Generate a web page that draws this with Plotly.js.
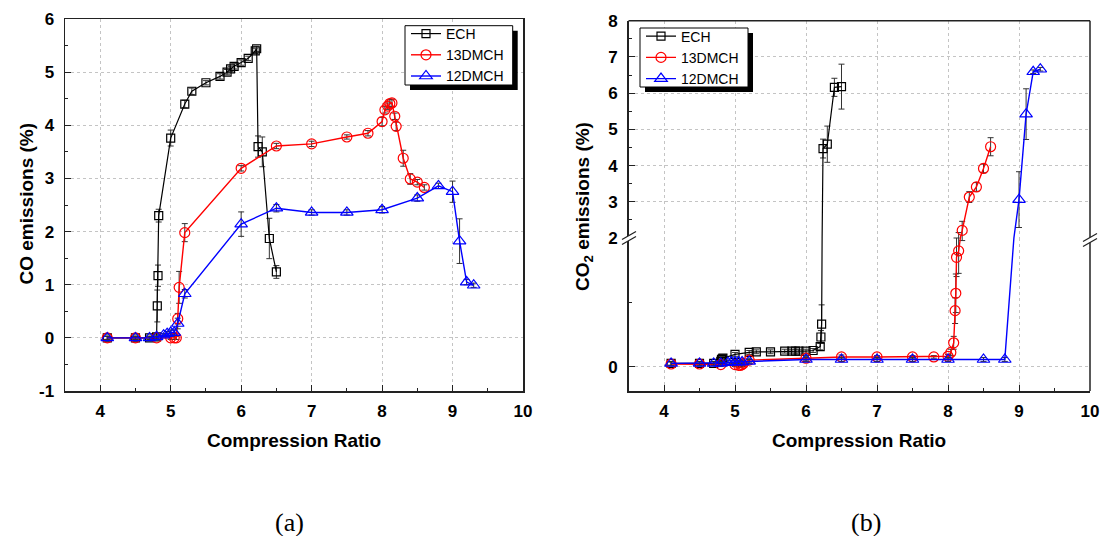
<!DOCTYPE html>
<html>
<head>
<meta charset="utf-8">
<script src="https://cdn.plot.ly/plotly-3.0.1.min.js"></script>
<style>
  html, body { margin: 0; padding: 0; background: #fff; }
  #chart { width: 1102px; height: 536px; }
</style>
</head>
<body>
<div id="chart"></div>
<script>
// ---------- DATA ----------
const seriesNames = ['ECH', '13DMCH', '12DMCH'];
const xTickVals = [4, 5, 6, 7, 8, 9, 10];
const xTickText = ['4', '5', '6', '7', '8', '9', '10'];
const coTickVals = [-1, 0, 1, 2, 3, 4, 5, 6];
const coTickText = ['-1', '0', '1', '2', '3', '4', '5', '6'];
const co2UpperTickVals = [2, 3, 4, 5, 6, 7, 8];
const co2UpperTickText = ['2', '3', '4', '5', '6', '7', '8'];
const co2LowerTickVals = [0];
const co2LowerTickText = ['0'];

// (a) CO emissions
const echCoX   = [4.1, 4.5, 4.7, 4.8, 4.81, 4.82, 4.83, 5.0, 5.2, 5.3, 5.5, 5.7, 5.8, 5.85, 5.9, 6.0, 6.1, 6.2, 6.22, 6.24, 6.3, 6.4, 6.5];
const echCoY   = [0, 0, 0, 0.02, 0.6, 1.17, 2.3, 3.76, 4.4, 4.64, 4.8, 4.92, 5.0, 5.06, 5.11, 5.18, 5.26, 5.4, 5.44, 3.6, 3.5, 1.87, 1.24];
const echCoErr = [0.03, 0.03, 0.03, 0.05, 0.3, 0.2, 0.12, 0.15, 0.07, 0.06, 0.04, 0.05, 0.05, 0.05, 0.05, 0.05, 0.04, 0.05, 0.05, 0.2, 0.28, 0.38, 0.12];

const m13CoX   = [4.1, 4.5, 4.8, 5.0, 5.05, 5.08, 5.1, 5.12, 5.2, 6.0, 6.5, 7.0, 7.5, 7.8, 8.0, 8.04, 8.08, 8.11, 8.14, 8.18, 8.2, 8.3, 8.4, 8.5, 8.6];
const m13CoY   = [0, 0, 0, 0, 0, 0, 0.36, 0.95, 1.98, 3.19, 3.61, 3.65, 3.78, 3.85, 4.07, 4.29, 4.36, 4.41, 4.42, 4.17, 3.98, 3.38, 2.99, 2.93, 2.83];
const m13CoErr = [0.03, 0.03, 0.03, 0.03, 0.03, 0.03, 0.1, 0.3, 0.17, 0.05, 0.05, 0.05, 0.04, 0.05, 0.08, 0.06, 0.06, 0.07, 0.07, 0.06, 0.08, 0.15, 0.1, 0.05, 0.05];

const m12CoX   = [4.1, 4.5, 4.7, 4.8, 4.9, 4.95, 5.0, 5.05, 5.1, 5.2, 6.0, 6.5, 7.0, 7.5, 8.0, 8.5, 8.8, 9.0, 9.1, 9.2, 9.3];
const m12CoY   = [0, 0, 0, 0.02, 0.05, 0.08, 0.1, 0.1, 0.27, 0.83, 2.14, 2.44, 2.36, 2.36, 2.41, 2.63, 2.86, 2.75, 1.82, 1.05, 0.99];
const m12CoErr = [0.03, 0.03, 0.03, 0.03, 0.03, 0.04, 0.05, 0.05, 0.1, 0.08, 0.23, 0.07, 0.05, 0.05, 0.06, 0.06, 0.05, 0.2, 0.42, 0.05, 0.04];

// (b) CO2 emissions
const echCo2X   = [4.1, 4.5, 4.7, 4.8, 4.81, 4.82, 4.83, 5.0, 5.2, 5.3, 5.5, 5.7, 5.8, 5.85, 5.9, 6.0, 6.1, 6.2, 6.21, 6.22, 6.24, 6.3, 6.4, 6.5];
const echCo2Y   = [0.05, 0.05, 0.05, 0.08, 0.11, 0.12, 0.13, 0.19, 0.22, 0.23, 0.23, 0.24, 0.24, 0.24, 0.24, 0.24, 0.25, 0.31, 0.46, 0.66, 4.47, 4.59, 6.16, 6.18];
const echCo2Err = [0.03, 0.03, 0.03, 0.03, 0.03, 0.03, 0.03, 0.03, 0.03, 0.03, 0.03, 0.03, 0.03, 0.03, 0.03, 0.03, 0.03, 0.05, 0.1, 0.3, 0.26, 0.5, 0.25, 0.62];

const m13Co2X   = [4.1, 4.5, 4.8, 5.0, 5.05, 5.08, 5.1, 5.12, 5.2, 6.0, 6.5, 7.0, 7.5, 7.8, 8.0, 8.04, 8.08, 8.1, 8.11, 8.12, 8.15, 8.2, 8.3, 8.4, 8.5, 8.6];
const m13Co2Y   = [0.04, 0.04, 0.03, 0.03, 0.02, 0.02, 0.03, 0.05, 0.1, 0.13, 0.15, 0.15, 0.15, 0.15, 0.16, 0.22, 0.37, 0.87, 1.14, 1.7, 1.8, 2.21, 3.13, 3.41, 3.92, 4.52];
const m13Co2Err = [0.03, 0.03, 0.03, 0.03, 0.03, 0.03, 0.03, 0.03, 0.03, 0.03, 0.03, 0.02, 0.02, 0.02, 0.03, 0.05, 0.1, 0.2, 0.3, 0.3, 0.35, 0.25, 0.15, 0.12, 0.12, 0.25];

const m12Co2X   = [4.1, 4.5, 4.7, 4.8, 4.9, 4.95, 5.0, 5.05, 5.1, 5.2, 6.0, 6.5, 7.0, 7.5, 8.0, 8.5, 8.8, 9.0, 9.1, 9.2, 9.3];
const m12Co2Y   = [0.05, 0.05, 0.05, 0.05, 0.06, 0.07, 0.07, 0.07, 0.07, 0.08, 0.11, 0.11, 0.11, 0.11, 0.11, 0.11, 0.11, 3.06, 5.42, 6.59, 6.66];
const m12Co2Err = [0.03, 0.03, 0.03, 0.03, 0.03, 0.03, 0.03, 0.03, 0.03, 0.03, 0.03, 0.03, 0.03, 0.03, 0.03, 0.03, 0.03, 0.77, 0.7, 0.05, 0.05];

// ---------- STYLE ----------
const W = 1102, H = 536;
const px = v => v / W;
const py = v => 1 - v / H;
const FONT = 'Liberation Sans, Arial, sans-serif';
const colors = ['#000000', '#ff0000', '#0000ff'];
const symbols = ['square-open', 'circle-open', 'triangle-up-open'];
const msizes = [8, 10, 11];
const lwidths = [1.2, 1.4, 1.4];
const ERR_COLOR = '#333333';
const AXIS_COLOR = '#222222';
const GRID_COLOR = '#c4c4c4';

function mk(i, x, y, err, xa, ya, legendName, showlegend) {
  return {
    type: 'scatter', mode: 'lines+markers',
    x: x, y: y, name: seriesNames[i],
    xaxis: xa, yaxis: ya, legend: legendName, showlegend: showlegend,
    line: { color: colors[i], width: lwidths[i] },
    marker: { symbol: symbols[i], size: msizes[i], color: colors[i], line: { color: colors[i], width: 1.2 } },
    error_y: { type: 'data', array: err, visible: true, color: ERR_COLOR, thickness: 1, width: 3 },
    cliponaxis: true
  };
}

const data = [
  mk(0, echCoX, echCoY, echCoErr, 'x', 'y', 'legend', true),
  mk(1, m13CoX, m13CoY, m13CoErr, 'x', 'y', 'legend', true),
  mk(2, m12CoX, m12CoY, m12CoErr, 'x', 'y', 'legend', true),
  // (b) lower segment
  mk(0, echCo2X, echCo2Y, echCo2Err, 'x2', 'y3', 'legend2', false),
  mk(1, m13Co2X, m13Co2Y, m13Co2Err, 'x2', 'y3', 'legend2', false),
  mk(2, m12Co2X, m12Co2Y, m12Co2Err, 'x2', 'y3', 'legend2', false),
  // (b) upper segment
  mk(0, echCo2X, echCo2Y, echCo2Err, 'x2', 'y4', 'legend2', true),
  mk(1, m13Co2X, m13Co2Y, m13Co2Err, 'x2', 'y4', 'legend2', true),
  mk(2, m12Co2X, m12Co2Y, m12Co2Err, 'x2', 'y4', 'legend2', true)
];

const tickFont = { family: FONT, size: 17, color: '#000', weight: 'bold' };
const minorTicks = { dtick: 0.5, tick0: 0, ticks: 'inside', ticklen: 3, tickwidth: 1, tickcolor: AXIS_COLOR, showgrid: false };

function xAxis(domain, anchor, mirror) {
  return {
    domain: domain, anchor: anchor, range: [3.5, 10], fixedrange: true,
    tickmode: 'array', tickvals: xTickVals, ticktext: xTickText,
    ticks: 'inside', ticklen: 6, tickwidth: 1, tickcolor: AXIS_COLOR,
    minor: minorTicks,
    showline: true, linecolor: AXIS_COLOR, linewidth: 1.5, mirror: mirror,
    showgrid: true, gridcolor: GRID_COLOR, griddash: 'dot', gridwidth: 1,
    zeroline: false, tickfont: tickFont, ticklabelstandoff: 4
  };
}

const legendStyle = {
  bgcolor: 'rgba(0,0,0,0)', bordercolor: 'rgba(0,0,0,0)', borderwidth: 0,
  font: { family: FONT, size: 14, color: '#000' },
  xanchor: 'left', yanchor: 'top', tracegroupgap: 0
};

const layout = {
  width: W, height: H,
  margin: { l: 0, r: 0, t: 0, b: 0 },
  paper_bgcolor: '#ffffff', plot_bgcolor: '#ffffff',
  font: { family: FONT, color: '#000' },
  xaxis: xAxis([px(65), px(523)], 'y', true),
  yaxis: {
    domain: [py(391), py(19)], anchor: 'x', range: [-1, 6], fixedrange: true,
    tickmode: 'array', tickvals: coTickVals, ticktext: coTickText,
    ticks: 'inside', ticklen: 6, tickwidth: 1, tickcolor: AXIS_COLOR,
    minor: minorTicks,
    showline: true, linecolor: AXIS_COLOR, linewidth: 1.5, mirror: true,
    showgrid: true, gridcolor: GRID_COLOR, griddash: 'dot', gridwidth: 1,
    zeroline: false, tickfont: tickFont, ticklabelstandoff: 6
  },
  xaxis2: xAxis([px(628.5), px(1090)], 'y3', false),
  yaxis3: {
    domain: [py(391), py(238)], anchor: 'x2', range: [-0.38, 2], fixedrange: true,
    tickmode: 'array', tickvals: co2LowerTickVals, ticktext: co2LowerTickText,
    ticks: 'inside', ticklen: 6, tickwidth: 1, tickcolor: AXIS_COLOR,
    minor: { tickmode: 'array', tickvals: [1], ticks: 'inside', ticklen: 3, tickwidth: 1, tickcolor: AXIS_COLOR, showgrid: false },
    showline: true, linecolor: AXIS_COLOR, linewidth: 1.5, mirror: false,
    showgrid: true, gridcolor: GRID_COLOR, griddash: 'dot', gridwidth: 1,
    zeroline: false, tickfont: tickFont, ticklabelstandoff: 6
  },
  yaxis4: {
    domain: [py(238), py(20.7)], anchor: 'x2', range: [2, 8], fixedrange: true,
    tickmode: 'array', tickvals: co2UpperTickVals, ticktext: co2UpperTickText,
    ticks: 'inside', ticklen: 6, tickwidth: 1, tickcolor: AXIS_COLOR,
    minor: minorTicks,
    showline: true, linecolor: AXIS_COLOR, linewidth: 1.5, mirror: false,
    showgrid: true, gridcolor: GRID_COLOR, griddash: 'dot', gridwidth: 1,
    zeroline: false, tickfont: tickFont, ticklabelstandoff: 6
  },
  legend: Object.assign({ x: px(406), y: py(18) }, legendStyle),
  legend2: Object.assign({ x: px(641), y: py(20.6) }, legendStyle),
  showlegend: true,
  annotations: [
    { text: 'CO emissions (%)', xref: 'paper', yref: 'paper', x: px(26), y: py(203.5), textangle: -90,
      showarrow: false, xanchor: 'center', yanchor: 'middle', font: { family: FONT, size: 19, weight: 'bold', color: '#000' } },
    { text: 'CO<sub>2</sub> emissions (%)', xref: 'paper', yref: 'paper', x: px(584), y: py(207), textangle: -90,
      showarrow: false, xanchor: 'center', yanchor: 'middle', font: { family: FONT, size: 19, weight: 'bold', color: '#000' } },
    { text: 'Compression Ratio', xref: 'paper', yref: 'paper', x: px(294), y: py(440.7),
      showarrow: false, xanchor: 'center', yanchor: 'middle', font: { family: FONT, size: 19, weight: 'bold', color: '#000' } },
    { text: 'Compression Ratio', xref: 'paper', yref: 'paper', x: px(859), y: py(440.7),
      showarrow: false, xanchor: 'center', yanchor: 'middle', font: { family: FONT, size: 19, weight: 'bold', color: '#000' } },
    { text: '(a)', xref: 'paper', yref: 'paper', x: px(289.7), y: py(522),
      showarrow: false, xanchor: 'center', yanchor: 'middle', font: { family: 'Liberation Serif, Times New Roman, serif', size: 26, color: '#000' } },
    { text: '(b)', xref: 'paper', yref: 'paper', x: px(866), y: py(522),
      showarrow: false, xanchor: 'center', yanchor: 'middle', font: { family: 'Liberation Serif, Times New Roman, serif', size: 26, color: '#000' } }
  ],
  shapes: []
};

// frame of panel (b): top and right edges
layout.shapes.push({ type: 'line', xref: 'paper', yref: 'paper', x0: px(628.5), x1: px(1090), y0: py(20.7), y1: py(20.7), line: { color: AXIS_COLOR, width: 1.5 }, layer: 'above' });
layout.shapes.push({ type: 'line', xref: 'paper', yref: 'paper', x0: px(1090), x1: px(1090), y0: py(391), y1: py(20.7), line: { color: AXIS_COLOR, width: 1.5 }, layer: 'above' });

// legend boxes with drop shadows
function legendBox(x0, y0, x1, y1) {
  layout.shapes.push({ type: 'rect', xref: 'paper', yref: 'paper', x0: px(x0 + 5), x1: px(x1 + 5), y0: py(y1 + 5), y1: py(y0 + 5), fillcolor: '#000', line: { width: 0 }, layer: 'above' });
  layout.shapes.push({ type: 'rect', xref: 'paper', yref: 'paper', x0: px(x0), x1: px(x1), y0: py(y1), y1: py(y0), fillcolor: '#fff', line: { color: '#000', width: 1 }, layer: 'above' });
}
legendBox(405, 25.7, 512.7, 85);
legendBox(640, 28, 748, 87);

// axis break marks
function breakMark(cx, cy) {
  const g = 2.5, dx = 7, dy = 4;
  const path = 'M' + px(cx - dx) + ',' + py(cy + dy + g) + ' L' + px(cx + dx) + ',' + py(cy - dy + g) +
               ' L' + px(cx + dx) + ',' + py(cy - dy - g) + ' L' + px(cx - dx) + ',' + py(cy + dy - g) + ' Z';
  layout.shapes.push({ type: 'path', xref: 'paper', yref: 'paper', path: path, fillcolor: '#fff', line: { width: 0 }, layer: 'above' });
  layout.shapes.push({ type: 'line', xref: 'paper', yref: 'paper', x0: px(cx - dx), y0: py(cy + dy + g), x1: px(cx + dx), y1: py(cy - dy + g), line: { color: AXIS_COLOR, width: 1.2 }, layer: 'above' });
  layout.shapes.push({ type: 'line', xref: 'paper', yref: 'paper', x0: px(cx - dx), y0: py(cy + dy - g), x1: px(cx + dx), y1: py(cy - dy - g), line: { color: AXIS_COLOR, width: 1.2 }, layer: 'above' });
}
breakMark(629, 238);
breakMark(1090, 240);

Plotly.newPlot('chart', data, layout, { staticPlot: true, displayModeBar: false });
</script>
</body>
</html>
